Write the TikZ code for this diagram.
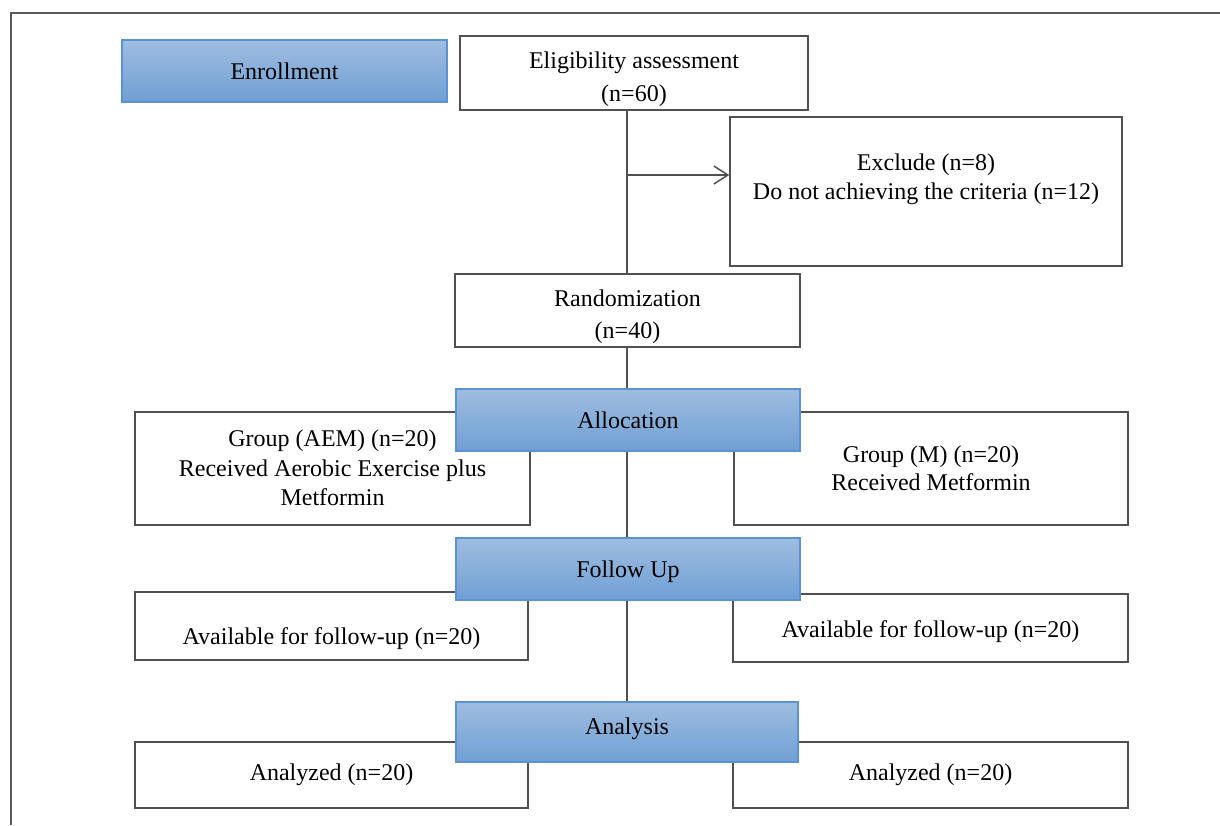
\documentclass[tikz,border=0pt]{standalone}
\usepackage{fontspec}
\setmainfont{Liberation Serif}
\usetikzlibrary{backgrounds,arrows.meta}
\definecolor{boxgray}{RGB}{80,80,80}
\definecolor{stagetop}{RGB}{158,189,224}
\definecolor{stagebot}{RGB}{112,159,212}
\definecolor{stageedge}{RGB}{92,146,212}
% move a text down inside its box, box size unchanged
\newcommand{\nudge}[2]{\raisebox{-#1}[\height][\depth]{\begin{tabular}{@{}c@{}}#2\end{tabular}}}
\tikzset{x=0.5pt,y=-0.5pt,
    box/.style={draw=boxgray, line width=0.75pt, fill=white,
        align=center, inner sep=0pt,
        font=\fontsize{12}{14.5}\selectfont},
    stage/.style={draw=stageedge, line width=0.75pt,
        top color=stagetop, bottom color=stagebot,
        align=center, inner sep=0pt, minimum height=31pt,
        font=\fontsize{12}{14.5}\selectfont},
    link/.style={draw=boxgray, line width=0.75pt},
    }

\begin{document}
\begin{tikzpicture}
\useasboundingbox (0,0) rectangle (1220,825);
% frame
\draw[gray!70!black, line width=1pt] (11,825) -- (11,13) -- (1220,13);

% top part
\node[stage, minimum width=162.5pt] (enroll) at (284.5,71) {Enrollment};
\node[box, minimum width=174pt, minimum height=37pt, font=\fontsize{12}{16.5}\selectfont]
    (elig) at (634,73) {\nudge{2.5pt}{Eligibility assessment\\(n=60)}};
\node[box, minimum width=196pt, minimum height=74.5pt] (excl) at (926,191.5)
    {Exclude (n=8)\\Do not achieving the criteria (n=12)\\\mbox{}};
\node[box, minimum width=172.5pt, minimum height=36.5pt, font=\fontsize{12}{16}\selectfont]
    (rand) at (627.5,310.5) {\nudge{2.75pt}{Randomization\\(n=40)}};

% groups
\node[box, minimum width=197.5pt, minimum height=56.5pt, font=\fontsize{12}{14.75}\selectfont]
    (grpA) at (332.5,468.5)
    {\nudge{1pt}{Group (AEM) (n=20)\\Received Aerobic Exercise plus\\Metformin}};
\node[box, minimum width=197pt, minimum height=56.5pt, font=\fontsize{12}{14}\selectfont]
    (grpM) at (931,468.5) {\nudge{1.25pt}{Group (M) (n=20)\\Received Metformin}};
\node[box, minimum width=196.5pt, minimum height=34pt] (availA) at (331.5,626)
    {\nudge{6.5pt}{Available for follow-up (n=20)}};
\node[box, minimum width=197.5pt, minimum height=34pt] (availM) at (930.5,628)
    {\nudge{2pt}{Available for follow-up (n=20)}};
\node[box, minimum width=196.5pt, minimum height=33pt] (anaA) at (331.5,775)
    {Analyzed (n=20)};
\node[box, minimum width=197.5pt, minimum height=33pt] (anaM) at (930.5,775)
    {Analyzed (n=20)};

% stages
\node[stage, minimum width=172pt] (alloc) at (628,420) {Allocation};
\node[stage, minimum width=172pt] (follow) at (628,569) {\nudge{1.5pt}{Follow Up}};
\node[stage, minimum width=171pt, minimum height=30pt] (analysis) at (627,732)
    {\nudge{-1.5pt}{Analysis}};

% connectors
\coordinate (split) at (627,175);
\begin{scope}[on background layer]
\draw[link] (elig.south -| split) -- (analysis.north -| split);
\end{scope}
\draw[link, -{Straight Barb[length=7pt,width=9pt]}] (split) -- (split -| excl.west);
\end{tikzpicture}
\end{document}
